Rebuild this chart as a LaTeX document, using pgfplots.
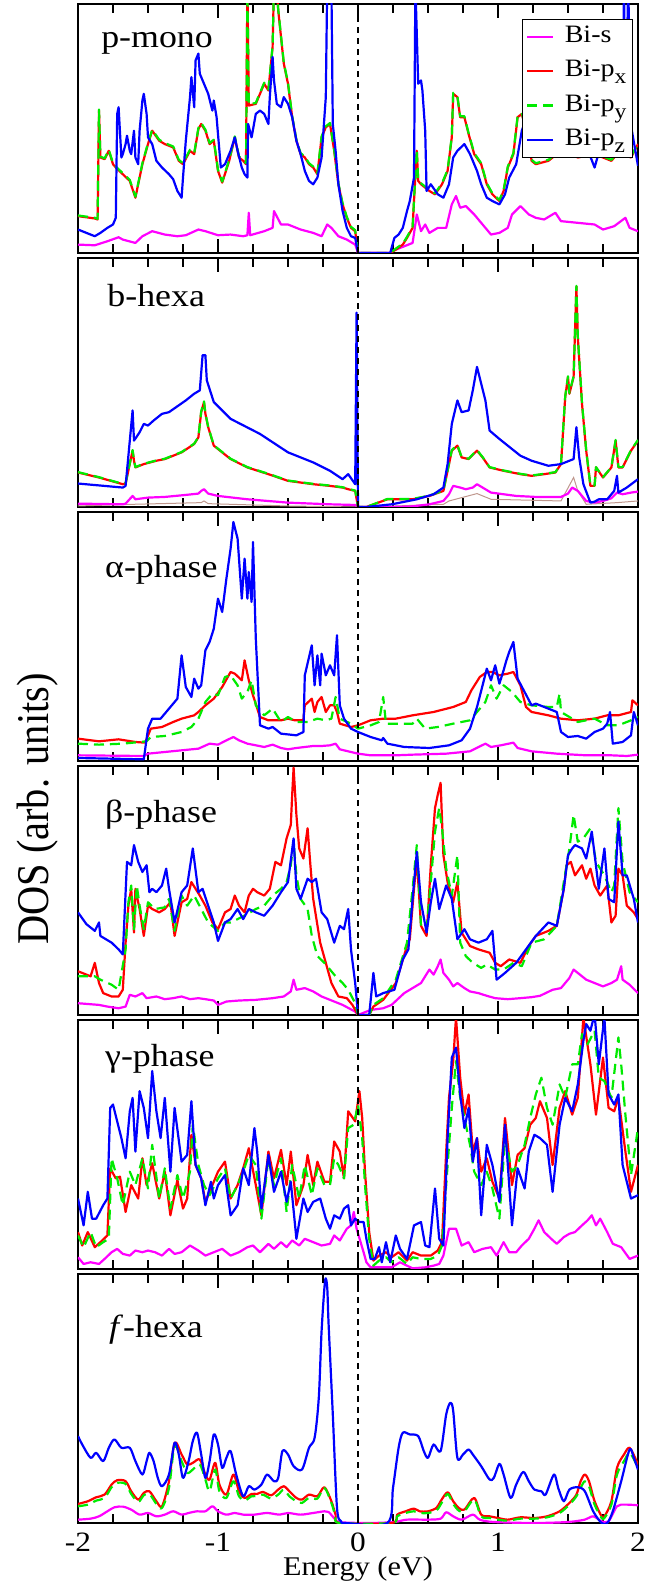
\documentclass[border=0pt]{standalone}
\usepackage{fontspec}
\setmainfont{Liberation Serif}[FakeStretch=1.12]
\newfontfamily\rotfont{Liberation Serif}[FakeStretch=0.89]
\usepackage{pgfplots}
\pgfplotsset{compat=1.18}
\definecolor{cmag}{RGB}{255,0,255}
\definecolor{cred}{RGB}{255,0,0}
\definecolor{cgrn}{RGB}{0,235,0}
\definecolor{cblu}{RGB}{0,0,255}
\definecolor{cbrn}{RGB}{190,150,140}
\newcommand{\plab}{\fontsize{16}{19}\selectfont}
\newcommand{\sub}[1]{\raisebox{-0.6ex}{\fontsize{10.5}{10.5}\selectfont #1}}
\pgfplotsset{
  panel/.style={
    width=280pt, height=124.5pt, scale only axis,
    xmin=-2, xmax=2, ymin=0,
    xtick={-2,-1,0,1,2}, minor x tick num=3,
    tick pos=both, tick align=inside,
    ytick=\empty, xticklabels=\empty,
    major tick length=7pt, minor tick length=4.5pt,
    every tick/.append style={black, line width=0.9pt},
    axis line style={line width=1.1pt},
    anchor=south west,
  },
  sS/.style={cmag, line width=1.1pt, mark=none, line join=round},
  sX/.style={cred, line width=1.1pt, mark=none, line join=round},
  sY/.style={cgrn, line width=1.1pt, mark=none, dash pattern=on 5pt off 3pt, line join=round},
  sZ/.style={cblu, line width=1.1pt, mark=none, line join=round},
  zl/.style={black, line width=0.6pt, dash pattern=on 3pt off 2.5pt, forget plot},
}
\begin{document}
\begin{tikzpicture}
\useasboundingbox (-39pt,-34pt) rectangle (285pt,761.5pt);
% ---------------- panel 1: p-mono
\begin{axis}[panel, at={(0pt,635pt)}, ymax=743,
  legend style={at={(rel axis cs:0.991,0.94)}, anchor=north east, draw=black, line width=0.6pt,
    font=\fontsize{12.5}{13}\selectfont, row sep=3.1pt, column sep=4pt, inner sep=1.8pt,
    nodes={inner sep=1.2pt, text height=8.6pt, text depth=3pt}, cells={anchor=west}},
  legend image code/.code={\draw[#1] (0pt,0pt) -- (13pt,0pt);}]
\addplot[sS] coordinates {(-2.00,25) (-1.88,23) (-1.79,35) (-1.71,47) (-1.68,40) (-1.59,30) (-1.54,50) (-1.47,65) (-1.38,55) (-1.29,50) (-1.23,53) (-1.14,70) (-1.09,65) (-1.00,53) (-0.91,55) (-0.82,50) (-0.79,53) (-0.78,120) (-0.77,53) (-0.67,65) (-0.61,75) (-0.60,125) (-0.55,85) (-0.50,85) (-0.41,70) (-0.32,60) (-0.26,50) (-0.22,85) (-0.19,75) (-0.14,50) (-0.08,40) (-0.02,25) (0,0) (0.23,0) (0.24,5) (0.33,20) (0.39,30) (0.42,115) (0.45,65) (0.48,85) (0.51,60) (0.57,75) (0.63,75) (0.67,145) (0.70,170) (0.73,135) (0.77,140) (0.83,115) (0.89,85) (0.95,55) (1.01,60) (1.07,75) (1.10,115) (1.16,140) (1.22,115) (1.27,105) (1.33,100) (1.41,120) (1.45,95) (1.57,90) (1.69,85) (1.75,70) (1.83,80) (1.91,105) (1.94,75) (2.00,65)};
\addlegendentry{Bi-s}
\addplot[sX] coordinates {(-2.00,110) (-1.88,103) (-1.86,100) (-1.85,425) (-1.84,285) (-1.81,280) (-1.78,305) (-1.75,265) (-1.73,255) (-1.68,235) (-1.63,215) (-1.59,165) (-1.54,265) (-1.50,325) (-1.47,365) (-1.42,335) (-1.38,325) (-1.32,315) (-1.28,275) (-1.25,265) (-1.20,305) (-1.17,295) (-1.14,370) (-1.12,385) (-1.09,365) (-1.06,325) (-1.03,335) (-1.00,245) (-0.97,210) (-0.92,275) (-0.88,345) (-0.85,285) (-0.82,275) (-0.80,265) (-0.79,800) (-0.78,440) (-0.73,445) (-0.67,505) (-0.64,485) (-0.61,615) (-0.60,800) (-0.58,800) (-0.57,725) (-0.55,645) (-0.53,565) (-0.50,505) (-0.47,405) (-0.44,335) (-0.41,295) (-0.38,285) (-0.35,265) (-0.32,255) (-0.29,235) (-0.26,345) (-0.23,375) (-0.20,385) (-0.17,305) (-0.14,205) (-0.11,145) (-0.08,105) (-0.05,75) (-0.02,65) (0,0) (0.23,0) (0.27,10) (0.32,25) (0.35,45) (0.39,75) (0.40,155) (0.42,305) (0.43,215) (0.45,205) (0.48,195) (0.51,185) (0.55,175) (0.60,205) (0.64,245) (0.67,345) (0.68,475) (0.71,465) (0.73,405) (0.76,405) (0.79,355) (0.83,295) (0.88,265) (0.92,205) (0.96,175) (1.01,155) (1.04,185) (1.07,255) (1.11,295) (1.14,405) (1.17,415) (1.22,335) (1.24,275) (1.27,265) (1.36,275) (1.42,295) (1.50,300) (1.57,285) (1.63,290) (1.69,295) (1.75,285) (1.81,275) (1.86,300) (1.89,295) (1.95,285) (2.00,325)};
\addlegendentry{Bi-p\sub{x}}
\addplot[sY] coordinates {(-2.00,112) (-1.88,105) (-1.86,102) (-1.85,428) (-1.84,288) (-1.81,282) (-1.78,308) (-1.75,268) (-1.73,258) (-1.68,238) (-1.63,218) (-1.59,168) (-1.54,268) (-1.50,328) (-1.47,368) (-1.42,338) (-1.38,328) (-1.32,318) (-1.28,278) (-1.25,268) (-1.20,308) (-1.17,298) (-1.14,373) (-1.12,388) (-1.09,368) (-1.06,328) (-1.03,338) (-1.00,248) (-0.97,213) (-0.92,278) (-0.88,348) (-0.85,288) (-0.82,278) (-0.80,268) (-0.79,800) (-0.78,443) (-0.73,448) (-0.67,508) (-0.64,488) (-0.61,618) (-0.60,800) (-0.58,800) (-0.57,728) (-0.55,648) (-0.53,568) (-0.50,508) (-0.47,408) (-0.44,338) (-0.41,298) (-0.38,288) (-0.35,268) (-0.32,258) (-0.29,238) (-0.26,348) (-0.23,378) (-0.20,388) (-0.17,308) (-0.14,208) (-0.11,148) (-0.08,108) (-0.05,78) (-0.02,68) (0,0) (0.23,0) (0.27,13) (0.32,28) (0.35,48) (0.39,78) (0.40,158) (0.42,308) (0.43,218) (0.45,208) (0.48,198) (0.51,188) (0.55,178) (0.60,208) (0.64,248) (0.67,348) (0.68,478) (0.71,468) (0.73,408) (0.76,408) (0.79,358) (0.83,298) (0.88,268) (0.92,208) (0.96,178) (1.01,158) (1.04,188) (1.07,258) (1.11,298) (1.14,408) (1.17,418) (1.22,338) (1.24,278) (1.27,268) (1.36,278) (1.42,298) (1.50,303) (1.57,288) (1.63,293) (1.69,298) (1.75,288) (1.81,278) (1.86,303) (1.89,298) (1.95,288) (2.00,328)};
\addlegendentry{Bi-p\sub{y}}
\addplot[sZ] coordinates {(-2.00,70) (-1.94,60) (-1.88,50) (-1.84,60) (-1.79,75) (-1.75,85) (-1.73,105) (-1.72,415) (-1.71,435) (-1.69,285) (-1.68,295) (-1.66,325) (-1.65,350) (-1.63,305) (-1.62,295) (-1.60,365) (-1.59,285) (-1.57,265) (-1.56,365) (-1.54,455) (-1.53,475) (-1.51,415) (-1.50,345) (-1.47,325) (-1.44,275) (-1.40,255) (-1.35,235) (-1.32,220) (-1.29,185) (-1.26,165) (-1.25,225) (-1.23,335) (-1.20,465) (-1.19,525) (-1.17,435) (-1.16,575) (-1.14,595) (-1.13,535) (-1.10,505) (-1.07,475) (-1.04,425) (-1.03,455) (-1.01,405) (-0.98,255) (-0.95,265) (-0.91,305) (-0.88,345) (-0.86,305) (-0.83,255) (-0.81,235) (-0.79,225) (-0.785,385) (-0.76,345) (-0.73,415) (-0.70,425) (-0.67,415) (-0.64,385) (-0.63,465) (-0.61,585) (-0.60,515) (-0.58,445) (-0.55,435) (-0.53,465) (-0.50,445) (-0.47,405) (-0.44,335) (-0.41,295) (-0.38,245) (-0.35,215) (-0.32,205) (-0.29,225) (-0.26,285) (-0.23,465) (-0.22,800) (-0.19,800) (-0.18,385) (-0.16,305) (-0.14,205) (-0.11,125) (-0.08,75) (-0.05,50) (-0.02,45) (0,0) (0.23,0) (0.26,45) (0.29,55) (0.32,75) (0.35,125) (0.37,155) (0.40,225) (0.41,800) (0.43,505) (0.45,515) (0.46,485) (0.48,365) (0.49,185) (0.52,205) (0.57,175) (0.61,165) (0.65,205) (0.68,285) (0.71,305) (0.76,325) (0.80,295) (0.85,245) (0.88,205) (0.92,165) (0.96,155) (1.01,145) (1.05,175) (1.08,225) (1.13,265) (1.17,365) (1.20,400) (1.25,370) (1.30,350) (1.36,330) (1.42,320) (1.50,315) (1.57,305) (1.63,320) (1.69,255) (1.72,300) (1.78,305) (1.85,290) (1.89,300) (1.90,800) (1.91,350) (1.93,800) (1.95,380) (2.00,260)};
\addlegendentry{Bi-p\sub{z}}
\addplot[zl] coordinates {(0,0) (0,743)};
\node[anchor=base west, font=\plab] at (rel axis cs:0.029,0.827) {p-mono};
\end{axis}
% ---------------- panel 2: b-hexa
\begin{axis}[panel, at={(0pt,508pt)}, ymax=743]
\addplot[cbrn, line width=0.5pt] coordinates {(-2.00,3) (-1.61,8) (-1.12,13) (-1.10,18) (-1.07,10) (-0.50,3) (0,0) (0.06,0) (0.61,8) (0.65,18) (0.85,40) (0.95,23) (1.45,18) (1.54,88) (1.57,48) (1.63,8) (1.85,13) (2.00,18)};
\addplot[sS] coordinates {(-2.00,10) (-1.68,8) (-1.66,10) (-1.61,33) (-1.59,23) (-1.50,28) (-1.38,30) (-1.23,36) (-1.14,40) (-1.12,48) (-1.10,53) (-1.07,40) (-1.00,33) (-0.79,23) (-0.50,13) (-0.20,8) (-0.02,6) (0,0) (0.06,0) (0.24,0) (0.39,2) (0.51,8) (0.61,18) (0.65,38) (0.68,63) (0.73,58) (0.77,53) (0.82,58) (0.85,68) (0.89,58) (0.95,43) (1.13,33) (1.27,30) (1.45,30) (1.50,40) (1.53,58) (1.57,48) (1.63,18) (1.69,13) (1.75,18) (1.81,26) (1.85,43) (1.89,38) (1.95,43) (2.00,46)};
\addplot[sX] coordinates {(-2.00,103) (-1.85,88) (-1.68,68) (-1.66,70) (-1.61,168) (-1.60,138) (-1.59,118) (-1.53,128) (-1.44,138) (-1.38,143) (-1.26,163) (-1.17,188) (-1.14,208) (-1.12,283) (-1.10,313) (-1.09,278) (-1.07,238) (-1.03,183) (-0.91,143) (-0.79,118) (-0.64,98) (-0.50,78) (-0.32,68) (-0.20,63) (-0.11,58) (-0.07,53) (-0.02,48) (0,0) (0.06,0) (0.21,23) (0.39,23) (0.51,33) (0.61,48) (0.64,108) (0.67,168) (0.71,183) (0.74,148) (0.79,143) (0.85,168) (0.89,148) (0.94,118) (1.04,108) (1.16,98) (1.24,93) (1.33,98) (1.41,103) (1.45,128) (1.48,328) (1.50,388) (1.51,338) (1.54,388) (1.56,658) (1.57,508) (1.60,308) (1.63,168) (1.66,63) (1.69,63) (1.70,118) (1.75,88) (1.81,118) (1.84,198) (1.86,118) (1.89,118) (1.95,168) (2.00,198)};
\addplot[sY] coordinates {(-2.00,104) (-1.85,89) (-1.68,69) (-1.66,71) (-1.61,170) (-1.60,140) (-1.59,119) (-1.53,129) (-1.44,139) (-1.38,144) (-1.26,164) (-1.17,189) (-1.14,209) (-1.12,285) (-1.10,315) (-1.09,280) (-1.07,239) (-1.03,184) (-0.91,144) (-0.79,119) (-0.64,99) (-0.50,79) (-0.32,69) (-0.20,64) (-0.11,59) (-0.07,54) (-0.02,49) (0,0) (0.06,0) (0.21,24) (0.39,24) (0.51,34) (0.61,49) (0.64,109) (0.67,170) (0.71,185) (0.74,149) (0.79,144) (0.85,170) (0.89,149) (0.94,119) (1.04,109) (1.16,99) (1.24,94) (1.33,99) (1.41,104) (1.45,129) (1.48,330) (1.50,390) (1.51,340) (1.54,390) (1.56,660) (1.57,510) (1.60,310) (1.63,170) (1.66,64) (1.69,64) (1.70,119) (1.75,89) (1.81,119) (1.84,200) (1.86,119) (1.89,119) (1.95,170) (2.00,200)};
\addplot[sZ] coordinates {(-2.00,70) (-1.68,58) (-1.66,63) (-1.61,288) (-1.60,198) (-1.56,223) (-1.53,248) (-1.50,243) (-1.46,258) (-1.40,278) (-1.35,283) (-1.23,318) (-1.17,338) (-1.13,348) (-1.11,453) (-1.09,453) (-1.08,378) (-1.03,313) (-0.91,263) (-0.70,218) (-0.50,163) (-0.32,133) (-0.20,108) (-0.11,83) (-0.07,98) (-0.02,68) (-0.01,580) (0,0) (0.06,0) (0.24,8) (0.42,23) (0.54,38) (0.61,58) (0.64,128) (0.67,248) (0.71,318) (0.74,283) (0.79,288) (0.82,348) (0.85,418) (0.91,318) (0.94,228) (1.01,203) (1.16,153) (1.24,138) (1.36,123) (1.45,128) (1.51,138) (1.54,143) (1.56,238) (1.58,148) (1.61,68) (1.66,13) (1.69,16) (1.72,23) (1.78,23) (1.83,48) (1.85,93) (1.86,43) (1.92,58) (2.00,83)};
\addplot[zl] coordinates {(0,0) (0,743)};
\node[anchor=base west, font=\plab] at (rel axis cs:0.040,0.807) {b-hexa};
\end{axis}
% ---------------- panel 3: alpha
\begin{axis}[panel, at={(0pt,381pt)}, ymax=747]
\addplot[sS] coordinates {(-2.00,17) (-1.53,15) (-1.50,22) (-1.38,27) (-1.26,32) (-1.14,37) (-1.06,52) (-1.00,49) (-0.94,62) (-0.89,72) (-0.85,62) (-0.79,52) (-0.73,47) (-0.67,42) (-0.61,49) (-0.55,39) (-0.50,35) (-0.44,39) (-0.38,42) (-0.32,45) (-0.26,45) (-0.20,47) (-0.16,52) (-0.13,35) (-0.05,27) (0,22) (0.09,17) (0.27,17) (0.39,19) (0.63,22) (0.80,29) (0.91,52) (0.95,42) (1.02,47) (1.11,55) (1.14,39) (1.24,29) (1.42,22) (1.63,17) (1.81,17) (1.92,15) (2.00,19)};
\addplot[sX] coordinates {(-2.00,67) (-1.85,59) (-1.71,65) (-1.59,57) (-1.52,55) (-1.48,97) (-1.40,102) (-1.32,117) (-1.26,127) (-1.17,137) (-1.14,147) (-1.09,167) (-1.03,187) (-0.97,222) (-0.91,267) (-0.88,262) (-0.83,242) (-0.81,302) (-0.78,242) (-0.75,197) (-0.70,132) (-0.64,122) (-0.55,122) (-0.50,127) (-0.45,122) (-0.39,122) (-0.38,167) (-0.33,187) (-0.31,147) (-0.29,177) (-0.26,192) (-0.23,147) (-0.20,167) (-0.17,167) (-0.15,147) (-0.13,112) (-0.05,102) (0,107) (0.09,122) (0.18,127) (0.27,127) (0.39,137) (0.54,147) (0.68,162) (0.77,177) (0.81,212) (0.87,252) (0.92,267) (0.96,267) (1.01,257) (1.07,262) (1.11,267) (1.16,227) (1.20,162) (1.24,147) (1.36,137) (1.45,127) (1.57,122) (1.69,127) (1.78,137) (1.86,137) (1.95,147) (1.96,182) (2.00,167)};
\addplot[sY] coordinates {(-2.00,52) (-1.85,49) (-1.68,52) (-1.51,59) (-1.48,72) (-1.38,75) (-1.26,87) (-1.19,102) (-1.14,127) (-1.09,177) (-1.04,202) (-1.00,197) (-0.95,252) (-0.91,257) (-0.86,227) (-0.83,187) (-0.79,207) (-0.76,242) (-0.73,167) (-0.67,137) (-0.61,157) (-0.55,117) (-0.50,132) (-0.44,117) (-0.36,117) (-0.29,127) (-0.23,122) (-0.19,127) (-0.16,192) (-0.13,127) (-0.05,112) (0,97) (0.09,107) (0.15,117) (0.18,192) (0.20,112) (0.27,112) (0.39,112) (0.42,127) (0.48,97) (0.57,102) (0.68,112) (0.80,122) (0.91,177) (0.95,227) (0.99,187) (1.04,227) (1.10,207) (1.16,177) (1.24,167) (1.36,162) (1.42,162) (1.44,202) (1.45,147) (1.57,117) (1.69,127) (1.78,107) (1.86,107) (1.95,122) (2.00,132)};
\addplot[sZ] coordinates {(-2.00,9) (-1.53,5) (-1.50,97) (-1.47,127) (-1.41,127) (-1.35,157) (-1.29,187) (-1.26,317) (-1.23,222) (-1.19,192) (-1.17,247) (-1.14,217) (-1.12,227) (-1.09,332) (-1.06,357) (-1.03,397) (-1.00,487) (-0.97,447) (-0.94,547) (-0.91,637) (-0.89,717) (-0.86,667) (-0.83,487) (-0.81,607) (-0.79,487) (-0.78,567) (-0.76,477) (-0.75,657) (-0.73,367) (-0.70,107) (-0.64,97) (-0.61,102) (-0.55,82) (-0.44,77) (-0.39,87) (-0.38,257) (-0.33,347) (-0.31,227) (-0.29,317) (-0.27,227) (-0.26,322) (-0.23,257) (-0.20,287) (-0.17,257) (-0.15,377) (-0.13,167) (-0.10,127) (-0.05,97) (0,87) (0.09,72) (0.17,62) (0.18,69) (0.21,52) (0.33,42) (0.51,39) (0.65,47) (0.74,62) (0.80,97) (0.85,162) (0.89,227) (0.92,277) (0.95,242) (0.98,287) (1.01,232) (1.04,272) (1.06,302) (1.08,327) (1.11,357) (1.14,247) (1.19,207) (1.24,167) (1.27,172) (1.42,147) (1.45,87) (1.50,72) (1.57,75) (1.63,67) (1.69,87) (1.75,97) (1.78,112) (1.80,147) (1.82,52) (1.89,57) (1.95,77) (1.97,147) (2.00,107)};
\addplot[zl] coordinates {(0,0) (0,747)};
\node[anchor=base west, font=\plab] at (rel axis cs:0.036,0.735) {α-phase};
\end{axis}
% ---------------- panel 4: beta
\begin{axis}[panel, at={(0pt,254pt)}, ymax=740]
\addplot[sS] coordinates {(-2.00,35) (-1.85,30) (-1.79,25) (-1.71,20) (-1.66,25) (-1.63,60) (-1.59,55) (-1.54,65) (-1.51,50) (-1.44,55) (-1.38,47) (-1.32,50) (-1.26,55) (-1.20,47) (-1.14,50) (-1.09,47) (-1.03,43) (-1.00,30) (-0.94,40) (-0.85,43) (-0.73,45) (-0.61,50) (-0.53,55) (-0.48,70) (-0.46,105) (-0.44,75) (-0.38,80) (-0.32,70) (-0.26,55) (-0.20,45) (-0.11,30) (-0.02,10) (0,0) (0.09,15) (0.18,20) (0.24,30) (0.33,65) (0.39,80) (0.45,95) (0.51,135) (0.54,120) (0.57,145) (0.59,165) (0.61,125) (0.65,105) (0.68,85) (0.71,95) (0.76,80) (0.80,70) (0.86,65) (0.92,57) (0.98,50) (1.07,47) (1.16,50) (1.24,53) (1.30,57) (1.39,75) (1.45,80) (1.51,110) (1.54,135) (1.57,125) (1.63,105) (1.69,95) (1.75,85) (1.81,95) (1.85,105) (1.88,145) (1.89,105) (1.94,90) (2.00,65)};
\addplot[sX] coordinates {(-2.00,130) (-1.91,115) (-1.88,155) (-1.85,95) (-1.82,65) (-1.76,55) (-1.71,55) (-1.68,75) (-1.66,215) (-1.64,325) (-1.62,375) (-1.60,245) (-1.59,375) (-1.56,315) (-1.53,235) (-1.50,325) (-1.47,315) (-1.42,305) (-1.38,315) (-1.34,335) (-1.31,235) (-1.26,335) (-1.22,345) (-1.19,395) (-1.16,375) (-1.13,355) (-1.09,325) (-1.04,275) (-1.00,255) (-0.95,305) (-0.91,315) (-0.88,355) (-0.85,325) (-0.81,305) (-0.78,355) (-0.75,375) (-0.72,365) (-0.67,355) (-0.63,375) (-0.59,455) (-0.55,445) (-0.51,525) (-0.48,565) (-0.47,655) (-0.46,735) (-0.44,595) (-0.42,495) (-0.39,465) (-0.36,555) (-0.34,445) (-0.32,345) (-0.27,215) (-0.23,155) (-0.19,95) (-0.14,55) (-0.08,50) (-0.04,30) (0,0) (0.08,0) (0.11,25) (0.18,45) (0.27,95) (0.35,205) (0.37,225) (0.40,375) (0.42,465) (0.45,265) (0.49,235) (0.52,445) (0.55,615) (0.57,655) (0.59,690) (0.61,475) (0.64,395) (0.68,335) (0.71,395) (0.74,245) (0.80,205) (0.86,195) (0.94,185) (0.98,155) (1.02,145) (1.08,165) (1.16,155) (1.22,205) (1.27,235) (1.36,250) (1.42,265) (1.47,375) (1.49,445) (1.52,455) (1.55,415) (1.60,445) (1.63,405) (1.66,435) (1.69,385) (1.73,355) (1.78,385) (1.81,275) (1.84,295) (1.86,435) (1.89,415) (1.92,325) (1.97,305) (2.00,285)};
\addplot[sY] coordinates {(-2.00,115) (-1.88,115) (-1.84,105) (-1.76,90) (-1.71,75) (-1.66,195) (-1.64,335) (-1.62,385) (-1.60,255) (-1.58,385) (-1.56,325) (-1.53,255) (-1.50,335) (-1.45,315) (-1.38,320) (-1.35,345) (-1.31,250) (-1.26,355) (-1.22,325) (-1.17,355) (-1.12,315) (-1.07,275) (-1.00,250) (-0.95,275) (-0.91,275) (-0.86,285) (-0.79,300) (-0.73,315) (-0.67,325) (-0.61,355) (-0.55,375) (-0.51,395) (-0.48,445) (-0.46,515) (-0.44,415) (-0.41,345) (-0.36,315) (-0.33,235) (-0.29,175) (-0.24,155) (-0.20,135) (-0.16,115) (-0.11,95) (-0.07,75) (-0.02,35) (0,0) (0.08,0) (0.11,30) (0.18,50) (0.27,105) (0.35,215) (0.39,375) (0.42,505) (0.45,265) (0.49,255) (0.52,395) (0.55,545) (0.58,615) (0.60,555) (0.63,435) (0.67,355) (0.71,475) (0.73,215) (0.77,175) (0.82,155) (0.88,140) (0.92,150) (0.98,135) (1.04,135) (1.11,155) (1.17,145) (1.24,215) (1.33,225) (1.42,265) (1.47,395) (1.51,495) (1.54,595) (1.57,515) (1.61,525) (1.66,555) (1.70,455) (1.76,415) (1.81,365) (1.83,385) (1.86,615) (1.89,455) (1.94,365) (2.00,335)};
\addplot[sZ] coordinates {(-2.00,305) (-1.94,270) (-1.88,250) (-1.85,275) (-1.84,235) (-1.76,215) (-1.71,195) (-1.68,180) (-1.65,455) (-1.62,445) (-1.60,505) (-1.57,455) (-1.54,425) (-1.51,445) (-1.49,365) (-1.47,375) (-1.44,365) (-1.40,385) (-1.37,435) (-1.35,375) (-1.31,275) (-1.26,365) (-1.22,385) (-1.18,495) (-1.14,365) (-1.11,375) (-1.07,325) (-1.03,275) (-1.00,220) (-0.95,275) (-0.91,285) (-0.86,315) (-0.82,285) (-0.78,315) (-0.73,305) (-0.67,295) (-0.61,325) (-0.55,365) (-0.50,395) (-0.46,525) (-0.44,375) (-0.41,345) (-0.36,405) (-0.33,395) (-0.30,405) (-0.26,305) (-0.22,285) (-0.17,215) (-0.13,265) (-0.10,255) (-0.07,315) (-0.05,195) (-0.02,95) (0,0) (0.08,0) (0.11,125) (0.13,55) (0.18,65) (0.26,75) (0.32,165) (0.36,195) (0.39,345) (0.42,485) (0.45,335) (0.49,245) (0.52,335) (0.55,405) (0.58,315) (0.63,385) (0.67,345) (0.71,225) (0.76,255) (0.80,225) (0.86,215) (0.92,225) (0.96,250) (0.99,105) (1.05,125) (1.13,155) (1.20,195) (1.27,235) (1.36,275) (1.42,265) (1.47,375) (1.50,475) (1.53,495) (1.55,505) (1.60,495) (1.63,465) (1.67,545) (1.72,375) (1.76,495) (1.79,345) (1.83,335) (1.86,575) (1.89,415) (1.92,415) (1.97,345) (2.00,275)};
\addplot[zl] coordinates {(0,0) (0,740)};
\node[anchor=base west, font=\plab] at (rel axis cs:0.036,0.775) {β-phase};
\end{axis}
% ---------------- panel 5: gamma
\begin{axis}[panel, at={(0pt,127pt)}, ymax=742]
\addplot[sS] coordinates {(-2.00,35) (-1.96,15) (-1.91,20) (-1.85,15) (-1.81,30) (-1.76,50) (-1.72,60) (-1.68,45) (-1.63,40) (-1.59,55) (-1.54,50) (-1.50,55) (-1.45,50) (-1.40,40) (-1.35,60) (-1.31,45) (-1.26,50) (-1.20,70) (-1.14,55) (-1.09,40) (-1.03,50) (-0.97,60) (-0.91,40) (-0.85,50) (-0.79,65) (-0.75,70) (-0.70,50) (-0.64,75) (-0.60,60) (-0.55,80) (-0.51,65) (-0.47,85) (-0.42,70) (-0.38,90) (-0.32,80) (-0.26,70) (-0.20,75) (-0.17,100) (-0.13,85) (-0.08,120) (-0.05,130) (-0.03,170) (-0.01,120) (0.04,50) (0.06,20) (0.09,5) (0.24,5) (0.30,20) (0.35,10) (0.39,2) (0.48,5) (0.54,10) (0.58,15) (0.61,40) (0.65,120) (0.70,120) (0.74,70) (0.79,80) (0.83,50) (0.89,60) (0.95,65) (0.99,40) (1.04,80) (1.08,50) (1.13,50) (1.17,70) (1.22,90) (1.26,120) (1.29,145) (1.33,110) (1.38,90) (1.42,75) (1.47,95) (1.51,105) (1.55,110) (1.60,130) (1.64,145) (1.67,160) (1.70,130) (1.73,150) (1.78,110) (1.82,75) (1.88,65) (1.94,30) (2.00,40)};
\addplot[sX] coordinates {(-2.00,110) (-1.97,70) (-1.93,110) (-1.88,65) (-1.84,80) (-1.79,100) (-1.77,300) (-1.73,270) (-1.70,275) (-1.66,170) (-1.62,250) (-1.57,210) (-1.54,330) (-1.51,250) (-1.47,315) (-1.42,210) (-1.38,290) (-1.34,160) (-1.29,265) (-1.25,180) (-1.22,210) (-1.19,400) (-1.16,310) (-1.12,270) (-1.09,200) (-1.04,250) (-1.00,290) (-0.95,320) (-0.91,210) (-0.86,250) (-0.82,300) (-0.78,360) (-0.73,250) (-0.69,160) (-0.64,350) (-0.60,270) (-0.55,355) (-0.51,250) (-0.48,350) (-0.44,190) (-0.39,250) (-0.36,340) (-0.32,250) (-0.29,320) (-0.24,260) (-0.20,260) (-0.17,380) (-0.13,350) (-0.10,270) (-0.07,470) (-0.02,440) (0.01,530) (0.03,450) (0.05,290) (0.08,110) (0.11,25) (0.15,40) (0.20,50) (0.24,35) (0.29,50) (0.35,25) (0.39,50) (0.45,40) (0.52,40) (0.57,55) (0.60,80) (0.63,350) (0.65,510) (0.68,620) (0.70,750) (0.73,570) (0.76,460) (0.79,520) (0.82,350) (0.85,390) (0.88,290) (0.92,330) (0.96,260) (1.01,210) (1.05,450) (1.10,250) (1.14,340) (1.19,360) (1.23,430) (1.27,450) (1.30,500) (1.35,450) (1.39,310) (1.44,480) (1.48,530) (1.53,460) (1.57,510) (1.61,750) (1.66,610) (1.70,460) (1.75,630) (1.79,480) (1.83,470) (1.86,510) (1.91,350) (1.95,230) (2.00,310)};
\addplot[sY] coordinates {(-2.00,100) (-1.96,65) (-1.91,110) (-1.87,65) (-1.82,80) (-1.78,90) (-1.76,330) (-1.72,270) (-1.68,190) (-1.63,290) (-1.59,250) (-1.54,330) (-1.50,240) (-1.47,370) (-1.42,210) (-1.38,300) (-1.34,180) (-1.29,280) (-1.25,210) (-1.20,290) (-1.18,430) (-1.14,310) (-1.10,250) (-1.06,220) (-1.00,270) (-0.95,300) (-0.91,210) (-0.86,250) (-0.82,290) (-0.78,340) (-0.73,310) (-0.69,150) (-0.64,330) (-0.60,250) (-0.55,330) (-0.51,170) (-0.47,310) (-0.42,210) (-0.38,310) (-0.33,220) (-0.29,300) (-0.24,250) (-0.20,250) (-0.17,330) (-0.14,310) (-0.10,270) (-0.07,420) (-0.03,430) (0,490) (0.03,390) (0.05,250) (0.08,90) (0.11,10) (0.15,25) (0.20,35) (0.24,20) (0.29,35) (0.35,15) (0.39,35) (0.45,30) (0.52,30) (0.57,40) (0.60,70) (0.64,310) (0.67,480) (0.70,620) (0.73,510) (0.76,450) (0.80,370) (0.83,290) (0.88,250) (0.92,290) (0.96,240) (1.01,150) (1.05,390) (1.10,290) (1.14,310) (1.19,370) (1.23,450) (1.27,520) (1.31,570) (1.35,480) (1.39,430) (1.44,550) (1.48,510) (1.53,610) (1.57,610) (1.60,700) (1.64,670) (1.69,710) (1.72,570) (1.76,560) (1.81,510) (1.86,690) (1.88,610) (1.91,460) (1.95,280) (2.00,420)};
\addplot[sZ] coordinates {(-2.00,210) (-1.97,150) (-1.96,130) (-1.93,230) (-1.90,150) (-1.87,150) (-1.82,190) (-1.79,210) (-1.77,480) (-1.75,490) (-1.72,440) (-1.69,390) (-1.66,330) (-1.63,470) (-1.61,510) (-1.59,350) (-1.56,530) (-1.53,480) (-1.50,390) (-1.47,590) (-1.44,470) (-1.41,390) (-1.38,510) (-1.34,290) (-1.31,480) (-1.26,320) (-1.22,340) (-1.19,500) (-1.16,310) (-1.12,270) (-1.09,190) (-1.05,260) (-1.03,210) (-1.00,250) (-0.95,280) (-0.91,160) (-0.86,190) (-0.82,300) (-0.78,250) (-0.74,420) (-0.72,350) (-0.69,180) (-0.64,340) (-0.60,230) (-0.55,290) (-0.51,200) (-0.48,260) (-0.44,90) (-0.39,210) (-0.36,170) (-0.32,200) (-0.27,210) (-0.23,150) (-0.20,120) (-0.17,160) (-0.13,150) (-0.10,180) (-0.07,190) (-0.05,130) (-0.02,150) (0.01,140) (0.04,140) (0.06,90) (0.09,30) (0.12,30) (0.15,65) (0.17,20) (0.20,80) (0.23,20) (0.27,100) (0.30,60) (0.35,30) (0.37,70) (0.40,130) (0.45,140) (0.48,70) (0.51,65) (0.55,240) (0.58,90) (0.61,70) (0.64,390) (0.67,630) (0.70,660) (0.73,520) (0.76,420) (0.79,480) (0.82,320) (0.85,390) (0.88,160) (0.92,370) (0.96,310) (1.01,200) (1.05,430) (1.10,130) (1.14,300) (1.19,240) (1.22,350) (1.26,400) (1.30,390) (1.35,370) (1.39,230) (1.44,430) (1.48,510) (1.53,470) (1.57,550) (1.61,680) (1.63,730) (1.66,710) (1.69,760) (1.72,610) (1.76,750) (1.79,520) (1.83,490) (1.86,520) (1.89,310) (1.92,260) (1.95,210) (2.00,220)};
\addplot[zl] coordinates {(0,0) (0,742)};
\node[anchor=base west, font=\plab] at (rel axis cs:0.036,0.815) {γ-phase};
\end{axis}
% ---------------- panel 6: f-hexa
\begin{axis}[panel, at={(0pt,0pt)}, ymax=745,
  xticklabels={-2,-1,0,1,2},
  xticklabel style={font=\fontsize{14}{15}\selectfont, anchor=base, yshift=-14pt, inner sep=0pt},
  xlabel={Energy (eV)},
  every axis x label/.style={at={(rel axis cs:0.5,0)}, anchor=base, yshift=-26.5pt, inner sep=0pt, font=\fontsize{13.5}{15}\selectfont}]
\addplot[sS, smooth, tension=0.5] coordinates {(-2.00,10) (-1.91,13) (-1.85,20) (-1.79,35) (-1.74,47) (-1.68,49) (-1.62,40) (-1.56,25) (-1.50,30) (-1.44,20) (-1.38,25) (-1.32,35) (-1.26,25) (-1.21,30) (-1.15,35) (-1.09,35) (-1.04,50) (-1.00,35) (-0.94,25) (-0.88,30) (-0.82,25) (-0.74,25) (-0.65,30) (-0.56,25) (-0.50,30) (-0.41,25) (-0.32,30) (-0.24,35) (-0.21,33) (-0.16,10) (-0.12,2) (0.09,0) (0.26,3) (0.35,10) (0.50,10) (0.59,13) (0.63,32) (0.68,20) (0.74,10) (0.82,25) (0.87,10) (0.97,3) (1.26,0) (1.50,3) (1.62,10) (1.68,20) (1.74,5) (1.79,5) (1.85,50) (1.91,55) (2.00,53)};
\addplot[sX, smooth, tension=0.5] coordinates {(-2.00,57) (-1.93,65) (-1.87,77) (-1.81,85) (-1.76,115) (-1.72,128) (-1.66,125) (-1.62,95) (-1.57,70) (-1.53,90) (-1.49,95) (-1.44,65) (-1.40,50) (-1.35,125) (-1.31,240) (-1.26,205) (-1.22,175) (-1.18,180) (-1.13,190) (-1.09,145) (-1.06,130) (-1.02,180) (-0.99,115) (-0.94,85) (-0.89,145) (-0.85,95) (-0.81,75) (-0.76,87) (-0.72,87) (-0.68,93) (-0.62,83) (-0.57,100) (-0.53,110) (-0.49,95) (-0.44,75) (-0.40,70) (-0.35,85) (-0.29,80) (-0.24,107) (-0.19,65) (-0.16,25) (-0.13,0) (0.24,0) (0.28,25) (0.34,35) (0.40,43) (0.44,35) (0.50,35) (0.56,45) (0.59,65) (0.64,92) (0.68,65) (0.72,45) (0.76,40) (0.83,75) (0.88,25) (0.94,20) (1.00,15) (1.07,10) (1.16,17) (1.26,15) (1.35,20) (1.44,35) (1.51,60) (1.56,85) (1.59,125) (1.62,145) (1.65,125) (1.69,65) (1.74,20) (1.76,20) (1.81,65) (1.85,165) (1.90,205) (1.94,225) (1.99,185) (2.00,175)};
\addplot[sY, smooth, tension=0.5] coordinates {(-2.00,50) (-1.93,55) (-1.87,67) (-1.81,75) (-1.76,107) (-1.72,120) (-1.66,117) (-1.62,87) (-1.57,63) (-1.53,83) (-1.49,87) (-1.44,57) (-1.40,45) (-1.35,105) (-1.31,230) (-1.26,185) (-1.22,150) (-1.18,160) (-1.13,175) (-1.09,130) (-1.06,95) (-1.02,160) (-0.99,95) (-0.94,75) (-0.89,125) (-0.85,80) (-0.81,67) (-0.76,80) (-0.72,80) (-0.68,85) (-0.62,73) (-0.57,85) (-0.53,100) (-0.49,80) (-0.44,65) (-0.40,60) (-0.35,75) (-0.29,73) (-0.24,105) (-0.19,60) (-0.16,20) (-0.13,0) (0.24,0) (0.28,20) (0.34,30) (0.40,35) (0.44,30) (0.50,30) (0.56,37) (0.59,55) (0.64,87) (0.68,57) (0.72,37) (0.76,35) (0.83,70) (0.88,20) (0.94,15) (1.00,10) (1.07,7) (1.16,13) (1.26,13) (1.35,17) (1.44,30) (1.51,55) (1.56,80) (1.59,105) (1.62,125) (1.65,110) (1.69,55) (1.74,15) (1.76,15) (1.81,55) (1.85,145) (1.90,185) (1.94,210) (1.99,175) (2.00,165)};
\addplot[sZ, smooth, tension=0.5] coordinates {(-2.00,260) (-1.97,235) (-1.91,195) (-1.87,210) (-1.82,185) (-1.78,225) (-1.74,250) (-1.69,225) (-1.63,225) (-1.59,185) (-1.54,145) (-1.51,185) (-1.49,210) (-1.46,185) (-1.43,135) (-1.40,110) (-1.35,145) (-1.31,240) (-1.28,205) (-1.25,135) (-1.21,185) (-1.18,245) (-1.15,270) (-1.12,205) (-1.09,135) (-1.06,185) (-1.03,265) (-1.00,235) (-0.97,165) (-0.94,195) (-0.91,215) (-0.87,145) (-0.82,80) (-0.78,110) (-0.74,100) (-0.69,115) (-0.65,145) (-0.60,125) (-0.57,135) (-0.54,215) (-0.50,205) (-0.46,170) (-0.40,160) (-0.35,225) (-0.31,255) (-0.28,375) (-0.26,575) (-0.235,725) (-0.22,705) (-0.21,595) (-0.18,325) (-0.15,45) (-0.12,5) (-0.09,0) (0.21,0) (0.25,105) (0.29,225) (0.32,270) (0.37,265) (0.43,260) (0.47,215) (0.50,195) (0.54,235) (0.59,215) (0.63,325) (0.66,360) (0.68,335) (0.71,195) (0.75,205) (0.79,220) (0.82,205) (0.88,170) (0.94,130) (0.97,135) (1.01,177) (1.04,145) (1.09,75) (1.13,115) (1.18,153) (1.22,125) (1.26,100) (1.31,95) (1.34,85) (1.40,145) (1.43,105) (1.47,65) (1.51,100) (1.57,107) (1.62,95) (1.68,35) (1.74,0) (1.78,0) (1.82,35) (1.88,125) (1.94,220) (1.97,195) (2.00,160)};
\addplot[zl] coordinates {(0,0) (0,745)};
\node[anchor=base west, font=\plab] at (rel axis cs:0.043,0.743) {\textit{f}-hexa};
\end{axis}
\node[rotate=90, anchor=base, inner sep=0pt, font=\rotfont\fontsize{22.7}{26}\selectfont] at (-14.9pt,357pt) {DOS (arb. units)};
\end{tikzpicture}
\end{document}
